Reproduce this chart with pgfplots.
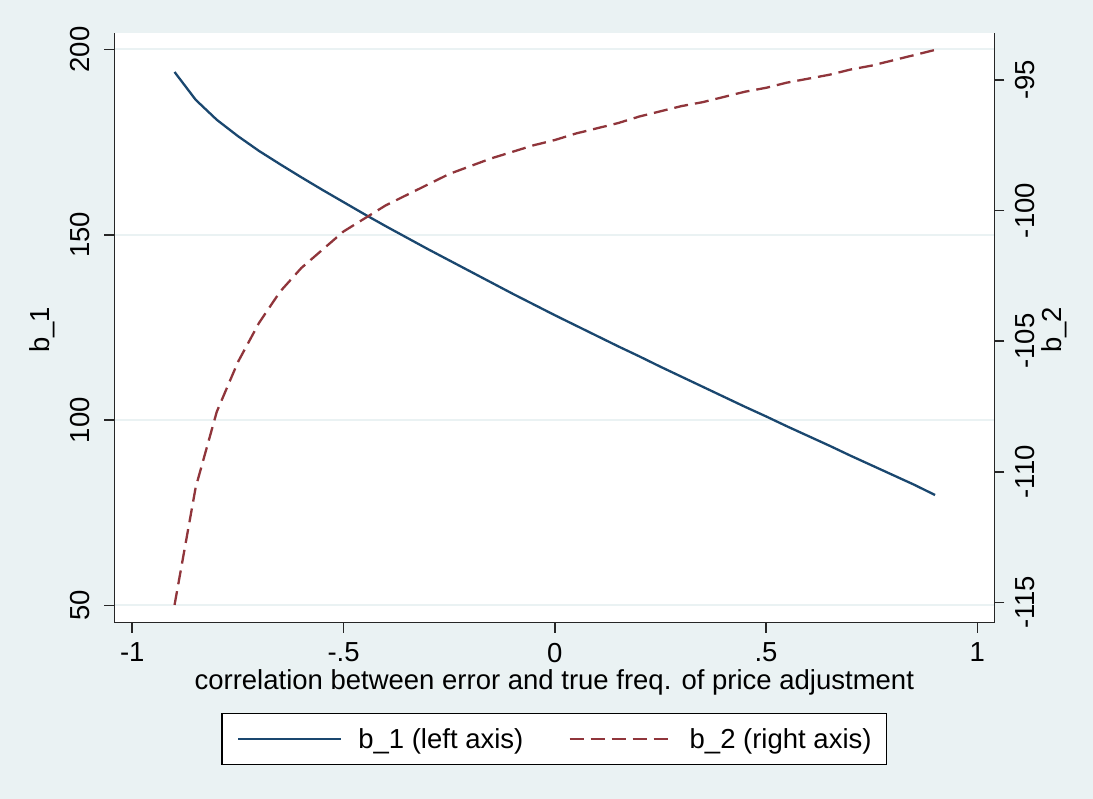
\documentclass[border=0pt]{standalone}
\usepackage{fontspec}
\setmainfont{Liberation Sans}
\usepackage{pgfplots}
\pgfplotsset{compat=1.18}
\definecolor{bg}{RGB}{234,242,243}
\definecolor{sNavy}{RGB}{26,71,111}
\definecolor{sMaroon}{RGB}{144,53,59}

\pgfplotstableread{
rho b1 b2
-0.90 193.9 -115.1
-0.85 186.4 -110.6
-0.80 181.0 -107.7
-0.75 176.6 -105.8
-0.70 172.6 -104.3
-0.65 169.0 -103.1
-0.60 165.5 -102.2
-0.55 162.1 -101.5
-0.50 158.8 -100.8
-0.45 155.5 -100.3
-0.40 152.3 -99.8
-0.35 149.2 -99.4
-0.30 146.1 -99.0
-0.25 143.1 -98.6
-0.20 140.1 -98.3
-0.15 137.1 -98.0
-0.10 134.1 -97.75
-0.05 131.2 -97.5
0.00 128.3 -97.3
0.05 125.5 -97.05
0.10 122.7 -96.85
0.15 119.9 -96.65
0.20 117.2 -96.4
0.25 114.4 -96.2
0.30 111.7 -96.0
0.35 109.0 -95.85
0.40 106.3 -95.65
0.45 103.6 -95.45
0.50 101.0 -95.3
0.55 98.3 -95.1
0.60 95.7 -94.95
0.65 93.1 -94.8
0.70 90.4 -94.6
0.75 87.8 -94.45
0.80 85.2 -94.25
0.85 82.6 -94.05
0.90 79.8 -93.85
}\datatable

\pgfplotsset{
  every axis/.append style={
    font=\fontsize{27.5}{32}\selectfont,
    scale only axis, width=880pt, height=590pt,
    at={(114.3pt,176.3pt)}, anchor=south west,
    xmin=-1.0426, xmax=1.0402,
    tick align=outside, major tick length=10pt,
    axis line style={black!85, line width=1.6pt},
    major tick style={black!85, line width=1.6pt},
    clip=false,
  },
}

\begin{document}
\begin{tikzpicture}[x=1pt,y=1pt]
\fill[bg] (0,0) rectangle (1093,799);
\fill[white] (114.3,176.3) rectangle (994.3,766.3);
\begin{axis}[
  ymin=45.36, ymax=204.5,
  axis x line*=bottom, axis y line*=left,
  xtick={-1,-0.5,0,0.5,1},
  xticklabels={-1,-.5,0,.5,1},
  xticklabel style={anchor=north, inner sep=0pt},
  xticklabel shift=10pt,
  ytick={50,100,150,200},
  yticklabels={50,100,150,200},
  yticklabel style={rotate=90, anchor=south, inner sep=0pt},
  yticklabel shift=14pt,
  ymajorgrids, major grid style={bg, line width=2pt},
  xlabel={correlation between error and true freq. of price adjustment},
  every axis x label/.style={at={(axis description cs:0.5,-0.1129)}, anchor=base},
  ylabel={b\_1},
  every axis y label/.style={at={(axis description cs:-0.0822,0.496)}, rotate=90, anchor=center},
]
\addplot[sNavy, line width=2.3pt] table[x=rho, y=b1] {\datatable};
\end{axis}
\begin{axis}[
  ymin=-115.78, ymax=-93.19,
  axis x line=none, axis y line*=right,
  ytick={-115,-110,-105,-100,-95},
  yticklabels={-115,-110,-105,-100,-95},
  yticklabel style={rotate=90, anchor=north, inner sep=0pt},
  yticklabel shift=11pt,
  ylabel={b\_2},
  every axis y label/.style={at={(axis description cs:1.068,0.496)}, rotate=90, anchor=center},
  legend columns=2,
  legend image code/.code={\draw[#1] (0pt,0pt) -- (103pt,0pt);},
  legend style={at={(axis description cs:0.5,-0.1971)}, anchor=center,
    draw=black, line width=1.2pt, fill=white,
    inner xsep=15pt, inner ysep=15pt,
    font=\fontsize{27.5}{32}\selectfont,
    /tikz/every odd column/.append style={column sep=16pt},
    /tikz/every even column/.append style={column sep=45pt},
    nodes={inner sep=0pt}},
]
\addlegendimage{sNavy, line width=2.3pt}
\addlegendentry{b\_1 (left axis)}
\addplot[sMaroon, line width=2.3pt, dash pattern=on 14pt off 7pt] table[x=rho, y=b2] {\datatable};
\addlegendentry{b\_2 (right axis)}
\end{axis}
\end{tikzpicture}
\end{document}
